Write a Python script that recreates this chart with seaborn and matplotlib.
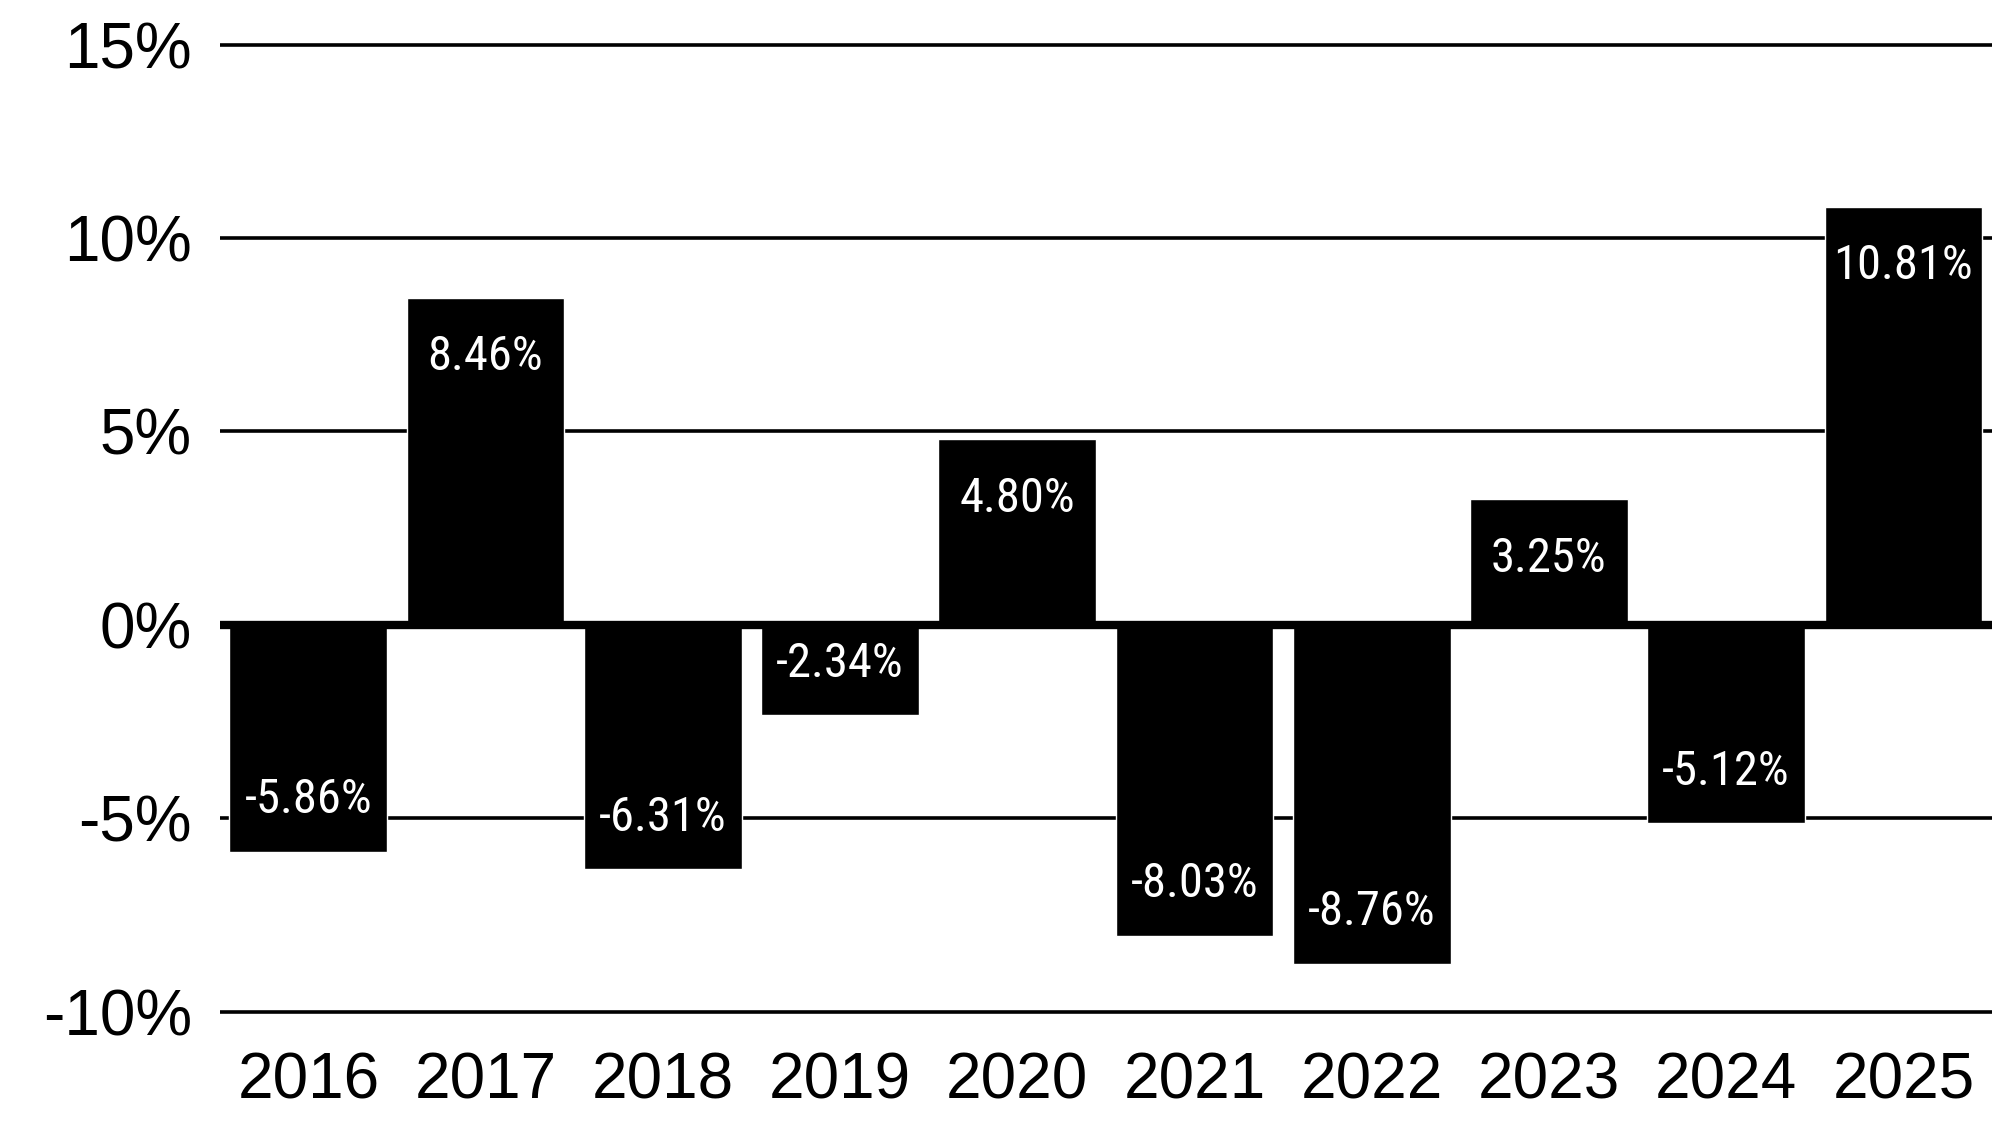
import matplotlib
matplotlib.use("Agg")
import matplotlib.pyplot as plt
import matplotlib.font_manager as fm
import seaborn as sns

# Data
years = ["2016", "2017", "2018", "2019", "2020", "2021", "2022", "2023", "2024", "2025"]
returns = [-5.86, 8.46, -6.31, -2.34, 4.80, -8.03, -8.76, 3.25, -5.12, 10.81]
y_ticks = [-10, -5, 0, 5, 10, 15]
y_tick_labels = ["-10%", "-5%", "0%", "5%", "10%", "15%"]

sns.set_style("white")
plt.rcParams['font.family'] = ['Liberation Sans', 'DejaVu Sans']

# pick a narrow font for the value labels if one is installed
installed = {f.name for f in fm.fontManager.ttflist}
label_font = None
for cand in ["Liberation Sans Narrow", "Roboto Condensed", "Open Sans Condensed", "Noto Sans Condensed"]:
    if cand in installed:
        label_font = cand
        break
label_kw = {"family": label_font, "fontsize": 35} if label_font else {"family": "Liberation Sans", "fontsize": 26, "fontstretch": "condensed"}

fig = plt.figure(figsize=(19.92, 11.25), dpi=100)
ax = fig.add_axes([0.1103, 0.0937, 0.8897, 0.8736])

sns.barplot(x=years, y=returns, color="black", saturation=1, width=0.89, ax=ax, zorder=2)

ax.set_xlim(-0.5, 9.5)
ax.set_ylim(-10.2, 15.2)

# horizontal rules
for t in y_ticks:
    if t == 0:
        ax.axhline(t, color="black", lw=6, zorder=3)
    else:
        ax.axhline(t, color="black", lw=2.6, zorder=1)

# value labels inside bar ends
for i, v in enumerate(returns):
    off = -43 if v > 0 else 37
    ax.annotate(f"{v:.2f}%", xy=(i, v), xytext=(0, off), textcoords="offset points",
                ha="center", va="center", color="white", zorder=4, **label_kw)

ax.set_yticks(y_ticks)
ax.set_yticklabels(y_tick_labels)
ax.tick_params(axis="y", length=0, pad=20, labelsize=46, labelcolor="black")
ax.tick_params(axis="x", length=0, pad=23, labelsize=46, labelcolor="black")
ax.set_xlabel("")
ax.set_ylabel("")
for s in ax.spines.values():
    s.set_visible(False)

fig.savefig("out.png", dpi=100)
